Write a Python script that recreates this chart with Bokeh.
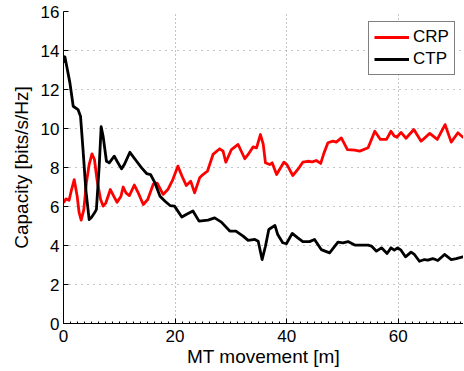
from bokeh.plotting import figure
from bokeh.models import Range1d, SingleIntervalTicker, Legend, LegendItem
from bokeh.embed import file_html
from bokeh.resources import INLINE

# Data
crp_x = [0, 0.43, 1.0, 1.45, 1.92, 2.45, 2.8, 3.17, 3.65, 4.1, 4.6, 5.1, 5.55, 6.0, 6.65, 7.1, 7.6,
         8.4, 9.0, 9.6, 10.3, 10.7, 11.2, 11.8, 12.7, 13.4, 14.3, 15.1, 16.1, 16.8, 17.85, 18.7,
         19.6, 20.5, 21.25, 22.0, 22.8, 23.5, 24.4, 25.0, 25.8, 26.8, 28.0, 28.6, 29.1, 30.1,
         31.3, 32.5, 33.1, 34.0, 34.6, 35.3, 35.8, 36.2, 36.95, 37.4, 38.2, 39.5, 40.05, 41.1,
         42.0, 42.9, 43.8, 44.6, 45.3, 46.1, 46.7, 47.4, 48.3, 48.9, 49.8, 50.9, 52.2, 53.1,
         54.6, 55.8, 56.8, 57.9, 58.7, 59.3, 59.75, 60.5, 61.4, 62.8, 64.1, 65.65, 67.0, 68.4,
         69.5, 70.7, 71.6, 72.0]
crp_y = [6.19, 6.39, 6.32, 6.87, 7.38, 6.53, 5.68, 5.3, 5.85, 7.21, 8.15, 8.7, 8.41, 7.38, 6.36,
         6.02, 6.19, 6.87, 6.53, 6.22, 6.53, 7.0, 6.7, 6.56, 7.1, 6.7, 6.1, 6.36, 7.15, 7.2,
         6.62, 6.87, 7.38, 8.07, 7.55, 7.08, 7.3, 6.7, 7.47, 7.64, 7.81, 8.67, 8.96, 8.84, 8.27,
         8.92, 9.18, 8.45, 8.67, 9.06, 9.01, 9.69, 9.2, 8.24, 8.15, 8.24, 7.64, 8.27, 8.15, 7.59,
         7.9, 8.27, 8.32, 8.29, 8.36, 8.21, 8.75, 9.27, 9.35, 9.3, 9.52, 8.92, 8.89, 8.84, 9.01,
         9.86, 9.44, 9.44, 9.86, 9.61, 9.55, 9.8, 9.5, 9.95, 9.35, 9.75, 9.44, 10.2, 9.3, 9.78,
         9.55, 9.55]

ctp_x = [0, 0.25, 1.15, 1.74, 2.6, 3.05, 3.5, 4.0, 4.6, 5.0, 5.6, 5.9, 6.4, 6.75, 7.1, 7.7, 8.2,
         9.1, 9.6, 10.4, 10.9, 11.9, 13.1, 14.0, 14.9, 15.6, 16.4, 17.3, 18.2, 19.1, 19.9, 21.2,
         22.0, 23.2, 24.3, 25.9, 27.1, 28.3, 29.8, 30.9, 32.2, 33.1, 34.3, 34.9, 35.6, 36.2,
         36.8, 37.9, 38.4, 39.3, 39.95, 41.0, 42.0, 42.9, 44.1, 45.0, 46.2, 47.7, 49.2, 50.1,
         51.0, 52.2, 54.6, 55.2, 56.1, 57.0, 58.0, 58.7, 59.3, 59.9, 60.5, 61.3, 62.3, 62.9,
         63.8, 64.7, 65.3, 66.2, 67.1, 68.3, 69.5, 70.4, 71.6, 72.0]
ctp_y = [13.37, 13.68, 12.34, 11.14, 10.97, 10.63, 8.92, 6.87, 5.33, 5.44, 5.69, 5.85, 8.07, 10.09,
         9.6, 8.32, 8.24, 8.58, 8.32, 7.93, 8.15, 8.78, 8.32, 7.98, 7.69, 7.64, 7.21, 6.53, 6.27,
         6.05, 6.02, 5.46, 5.59, 5.77, 5.25, 5.3, 5.42, 5.2, 4.74, 4.74, 4.48, 4.26, 4.31, 4.22,
         3.28, 3.96, 4.82, 5.03, 4.56, 4.14, 4.09, 4.62, 4.39, 4.2, 4.2, 4.31, 3.79, 3.62, 4.17,
         4.14, 4.2, 4.02, 4.02, 3.97, 3.71, 3.88, 3.59, 3.88, 3.76, 3.88, 3.76, 3.42, 3.66, 3.54,
         3.19, 3.28, 3.25, 3.33, 3.23, 3.54, 3.28, 3.33, 3.42, 3.45]

series_names = ["CRP", "CTP"]
series_colors = ["#ff0000", "#000000"]
x_label = "MT movement [m]"
y_label = "Capacity [bits/s/Hz]"

FONT = "Liberation Sans"

p = figure(width=463, height=370, output_backend="svg", toolbar_location=None,
           x_range=Range1d(0, 71.7), y_range=Range1d(0, 16),
           min_border_left=63, min_border_right=0, min_border_top=11, min_border_bottom=47)
p.outline_line_color = None
p.background_fill_color = "white"
p.border_fill_color = "white"

r1 = p.line(crp_x, crp_y, line_color=series_colors[0], line_width=2.8, line_join="round")
r2 = p.line(ctp_x, ctp_y, line_color=series_colors[1], line_width=2.8, line_join="round")

xt = SingleIntervalTicker(interval=20, num_minor_ticks=16)
yt = SingleIntervalTicker(interval=2, num_minor_ticks=0)
p.xaxis.ticker = xt
p.yaxis.ticker = yt
p.xgrid.ticker = xt
p.ygrid.ticker = yt

for ax in (p.xaxis[0], p.yaxis[0]):
    ax.axis_line_color = "black"
    ax.axis_line_width = 1
    ax.major_tick_in = 5
    ax.major_tick_out = 0
    ax.minor_tick_in = 2
    ax.minor_tick_out = 0
    ax.major_tick_line_color = "black"
    ax.minor_tick_line_color = "black"
    ax.major_label_text_font = FONT
    ax.major_label_text_font_size = "17px"
    ax.major_label_text_color = "black"
    ax.axis_label_text_font = FONT
    ax.axis_label_text_font_size = "19px"
    ax.axis_label_text_font_style = "normal"
    ax.axis_label_text_color = "black"

p.xaxis.axis_label = x_label
p.yaxis.axis_label = y_label
p.xaxis.major_label_standoff = 6
p.xaxis.axis_label_standoff = 1
p.yaxis.major_label_standoff = 4
p.yaxis.axis_label_standoff = 6
p.yaxis.minor_tick_line_color = None

p.xgrid.grid_line_color = "#8a8a8a"
p.xgrid.grid_line_dash = "1 3"
p.xgrid.grid_line_width = 1
p.ygrid.grid_line_color = "#8a8a8a"
p.ygrid.grid_line_dash = "1 5"
p.ygrid.grid_line_width = 1

legend = Legend(items=[LegendItem(label=series_names[0], renderers=[r1]),
                       LegendItem(label=series_names[1], renderers=[r2])],
                location=(305, 248))
legend.border_line_color = "black"
legend.border_line_width = 1
legend.background_fill_color = "white"
legend.background_fill_alpha = 1
legend.label_text_font = FONT
legend.label_text_font_size = "17px"
legend.label_text_color = "black"
legend.glyph_width = 35
legend.glyph_height = 18
legend.label_height = 18
legend.label_standoff = 4
legend.spacing = 2
legend.padding = 5
legend.margin = 0
p.add_layout(legend)

open("out.html", "w").write(file_html(p, INLINE))
